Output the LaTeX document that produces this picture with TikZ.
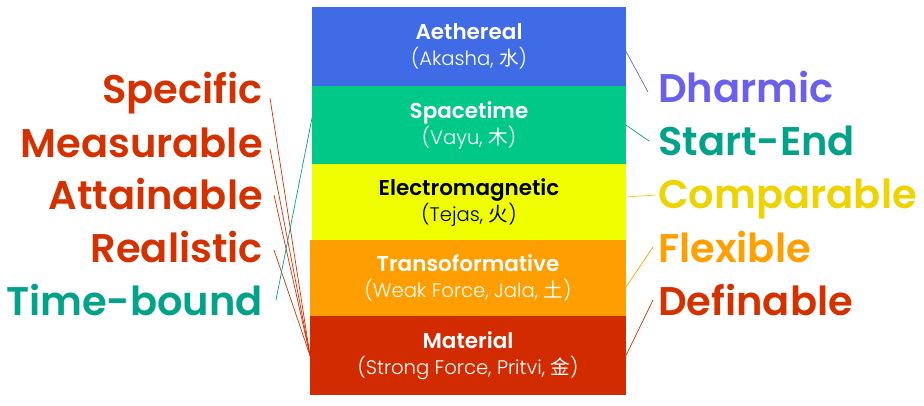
\documentclass[tikz,border=0pt]{standalone}
\usepackage{fontspec}
\setmainfont{Poppins}[BoldFont={Poppins SemiBold}]
\newfontfamily\thinfont{Poppins Light}
\newfontfamily\cjk{Noto Sans CJK SC}
\definecolor{lblue}{HTML}{3F6BE6}
\definecolor{lgreen}{HTML}{00C987}
\definecolor{lyellow}{HTML}{EFFF00}
\definecolor{lorange}{HTML}{FF9E00}
\definecolor{lred}{HTML}{D22B00}
\definecolor{tred}{HTML}{D33200}
\definecolor{tteal}{HTML}{00A38A}
\definecolor{tviolet}{HTML}{6B60EC}
\definecolor{tgold}{HTML}{EDD300}
\definecolor{torange}{HTML}{FFA000}
\begin{document}
\begin{tikzpicture}[x=1pt,y=-1pt,
  layer/.style={anchor=north west,inner sep=0pt,outer sep=0pt,minimum height=#1},
  title/.style={anchor=base,inner sep=0pt,font=\fontsize{21.5}{26}\selectfont\bfseries},
  sub/.style={anchor=base,inner sep=0pt,font=\fontsize{19.6}{23}\selectfont\thinfont},
  lab/.style={inner sep=0pt,font=\fontsize{40}{46}\selectfont\bfseries},
  link/.style={line width=0.7pt}]
\useasboundingbox (0,0) rectangle (924,405);
\fill[white] (0,0) rectangle (924,405);

% stacked layers
\node[layer=79pt,minimum width=314pt,fill=lblue]   (aeth)  at (312,7)   {};
\node[layer=78pt,minimum width=314pt,fill=lgreen]  (space) at (312,86)  {};
\node[layer=76pt,minimum width=314pt,fill=lyellow] (elec)  at (312,164) {};
\node[layer=76pt,minimum width=316pt,fill=lorange] (trans) at (310,240) {};
\node[layer=79pt,minimum width=316pt,fill=lred]    (mat)   at (310,316) {};

% layer captions
\node[title,text=white] (aeth-t) at ([yshift=7pt]aeth.center) {Aethereal};
\node[sub,text=white]   (aeth-s) at ([yshift=-19pt]aeth.center) {(Akasha, {\cjk 水})};
\node[title,text=white] (space-t) at ([yshift=7pt]space.center) {Spacetime};
\node[sub,text=white]   (space-s) at ([yshift=-19pt]space.center) {(Vayu, {\cjk 木})};
\node[title,text=black] (elec-t) at ([yshift=7pt]elec.center) {Electromagnetic};
\node[sub,text=black]   (elec-s) at ([yshift=-19pt]elec.center) {(Tejas, {\cjk 火})};
\node[title,text=white] (trans-t) at ([yshift=7pt]trans.center) {Transoformative};
\node[sub,text=white]   (trans-s) at ([yshift=-19pt]trans.center) {(Weak Force, Jala, {\cjk 土})};
\node[title,text=white] (mat-t) at ([yshift=7pt]mat.center) {Material};
\node[sub,text=white]   (mat-s) at ([yshift=-19pt]mat.center) {(Strong Force, Pritvi, {\cjk 金})};

% left column
\node[lab,anchor=base east,text=tred]  (spec) at (263,103) {Specific};
\node[lab,anchor=base east,text=tred]  (meas) at (263,157) {Measurable};
\node[lab,anchor=base east,text=tred]  (att)  at (263,209) {Attainable};
\node[lab,anchor=base east,text=tred]  (real) at (263,262) {Realistic};
\node[lab,anchor=base east,text=tteal] (time) at (263,315) {Time-bound};

% right column
\node[lab,anchor=base west,text=tviolet] (dharm) at (658,102) {Dharmic};
\node[lab,anchor=base west,text=tteal]   (start) at (658,155) {Start-End};
\node[lab,anchor=base west,text=tgold]   (comp)  at (658,208) {Comparable};
\node[lab,anchor=base west,text=torange] (flex)  at (658,262) {Flexible};
\node[lab,anchor=base west,text=tred]    (defn)  at (658,315) {Definable};

% connector ends beside the words
\coordinate (spec-e) at (270,98);
\coordinate (meas-e) at (270,149);
\coordinate (att-e)  at (274,195);
\coordinate (real-e) at (274,250);
\coordinate (time-e) at (276,300);
\coordinate (dharm-w) at (648,92);
\coordinate (start-w) at (649,141);
\coordinate (comp-w)  at (656,195);
\coordinate (flex-w)  at (653,247);
\coordinate (defn-w)  at (653,300);

% left connectors
\draw[link,tred] (spec-e) -- (mat.west);
\draw[link,tred] (meas-e) -- (mat.west);
\draw[link,tred] (att-e)  -- (mat.west);
\draw[link,tred] (real-e) -- (mat.west);
\draw[link,tteal] (time-e) -- ([yshift=7pt]space.west);

% right connectors
\draw[link,tviolet] ([yshift=-5pt]aeth.east) -- (dharm-w);
\draw[link,tteal]   (space.east) -- (start-w);
\draw[link,tgold]   ([yshift=5pt]elec.east) -- (comp-w);
\draw[link,torange] ([yshift=-9pt]trans.east) -- (flex-w);
\draw[link,tred]    (mat.east) -- (defn-w);
\end{tikzpicture}
\end{document}
